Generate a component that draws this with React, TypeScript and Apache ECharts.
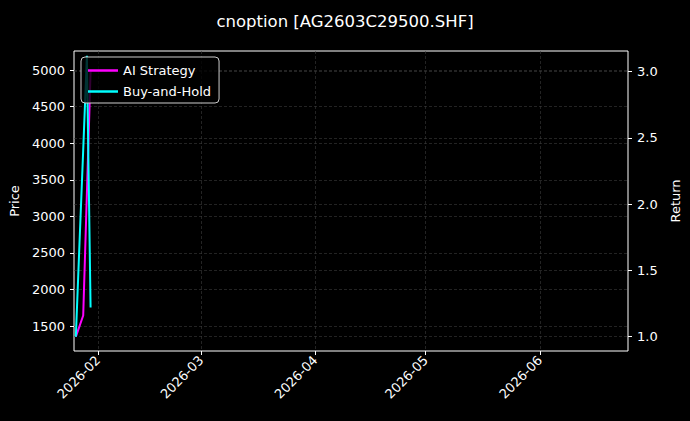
import React, { useEffect, useRef } from "react";
import * as echarts from "echarts";

const titleText = "cnoption [AG2603C29500.SHF]";
const dates = ["2026-01-26", "2026-01-27", "2026-01-28", "2026-01-29", "2026-01-30"];
const aiStrategy = [1.0, 1.08, 1.16, 2.08, 3.0];
const buyHold = [1.0, 1.71, 2.41, 3.12, 1.22];
const monthTicks = ["2026-02-01", "2026-03-01", "2026-04-01", "2026-05-01", "2026-06-01"];
const priceTicks = [1500, 2000, 2500, 3000, 3500, 4000, 4500, 5000];
const returnTicks = [1.0, 1.5, 2.0, 2.5, 3.0];

const FONT = "DejaVu Sans";

function localTs(s: string, hour = 0): number {
  const [y, m, d] = s.split("-").map(Number);
  return new Date(y, m - 1, d, hour).getTime();
}

export default function App() {
  const ref = useRef<HTMLDivElement>(null);
  useEffect(() => {
    document.body.style.margin = "0";
    document.body.style.background = "#000";
    const chart = echarts.init(ref.current!, null, { renderer: "svg" });
    const grid = { lineStyle: { color: "#3a3a3a", type: [3, 2] as any, width: 0.6 } };
    const tick = { show: true, inside: false, length: 4, lineStyle: { color: "#fff", width: 1 } };
    const monthVals = monthTicks.map((s) => localTs(s));
    chart.setOption({
      animation: false,
      backgroundColor: "#000",
      textStyle: { fontFamily: FONT },
      title: {
        text: titleText,
        left: "center",
        top: 8,
        textStyle: { color: "#fff", fontSize: 16.5, fontWeight: "normal", fontFamily: FONT },
      },
      grid: {
        left: 74,
        right: 62,
        top: 51,
        bottom: 70,
        show: true,
        borderColor: "#fff",
        borderWidth: 1,
        backgroundColor: "transparent",
        containLabel: false,
        outerBoundsMode: "none",
      },
      legend: {
        left: 81,
        top: 57,
        orient: "vertical",
        padding: [7, 8, 5, 7],
        itemGap: 8,
        itemWidth: 30,
        itemHeight: 2.5,
        icon: "rect",
        backgroundColor: "rgba(0,0,0,0.8)",
        borderColor: "#cccccc",
        borderWidth: 1,
        borderRadius: 4,
        textStyle: { color: "#fff", fontSize: 13, fontFamily: FONT },
        data: ["AI Strategy", "Buy-and-Hold"],
      },
      xAxis: {
        type: "value",
        min: localTs("2026-01-25", 12),
        max: localTs("2026-06-24", 22),
        axisLine: { show: false },
        axisTick: { ...tick, customValues: monthVals },
        splitLine: { show: true, ...grid },
        axisLabel: {
          customValues: monthVals,
          rotate: 45,
          color: "#fff",
          fontSize: 13,
          fontFamily: FONT,
          margin: 7,
          formatter: (v: number) => {
            const d = new Date(v);
            return d.getFullYear() + "-" + String(d.getMonth() + 1).padStart(2, "0");
          },
        },
      },
      yAxis: [
        {
          type: "value",
          name: "Price",
          nameLocation: "middle",
          nameGap: 48,
          nameRotate: 90,
          nameTextStyle: { color: "#fff", fontSize: 13, fontFamily: FONT },
          min: 1160,
          max: 5260,
          position: "left",
          axisLine: { show: false },
          axisTick: { ...tick, customValues: priceTicks },
          splitLine: { show: true, ...grid },
          axisLabel: {
            customValues: priceTicks,
            color: "#fff",
            fontSize: 13,
            fontFamily: FONT,
            margin: 9,
            formatter: (v: number) => String(v),
          },
        },
        {
          type: "value",
          name: "Return",
          nameLocation: "middle",
          nameGap: 38,
          nameRotate: 90,
          nameTextStyle: { color: "#fff", fontSize: 13, fontFamily: FONT },
          min: 0.892,
          max: 3.156,
          position: "right",
          axisLine: { show: false },
          axisTick: { ...tick, customValues: returnTicks },
          splitLine: { show: true, ...grid },
          axisLabel: {
            customValues: returnTicks,
            color: "#fff",
            fontSize: 13,
            fontFamily: FONT,
            margin: 9,
            formatter: (v: number) => v.toFixed(1),
          },
        },
      ],
      series: [
        {
          name: "AI Strategy",
          type: "line",
          yAxisIndex: 1,
          symbol: "none",
          showSymbol: false,
          color: "#ff00ff",
          lineStyle: { color: "#ff00ff", width: 2 },
          data: dates.map((d, i) => [localTs(d), aiStrategy[i]]),
        },
        {
          name: "Buy-and-Hold",
          type: "line",
          yAxisIndex: 1,
          symbol: "none",
          showSymbol: false,
          color: "#00ffff",
          lineStyle: { color: "#00ffff", width: 2 },
          data: dates.map((d, i) => [localTs(d), buyHold[i]]),
        },
      ],
    });
    return () => chart.dispose();
  }, []);
  return <div ref={ref} style={{ width: 690, height: 421 }} />;
}
